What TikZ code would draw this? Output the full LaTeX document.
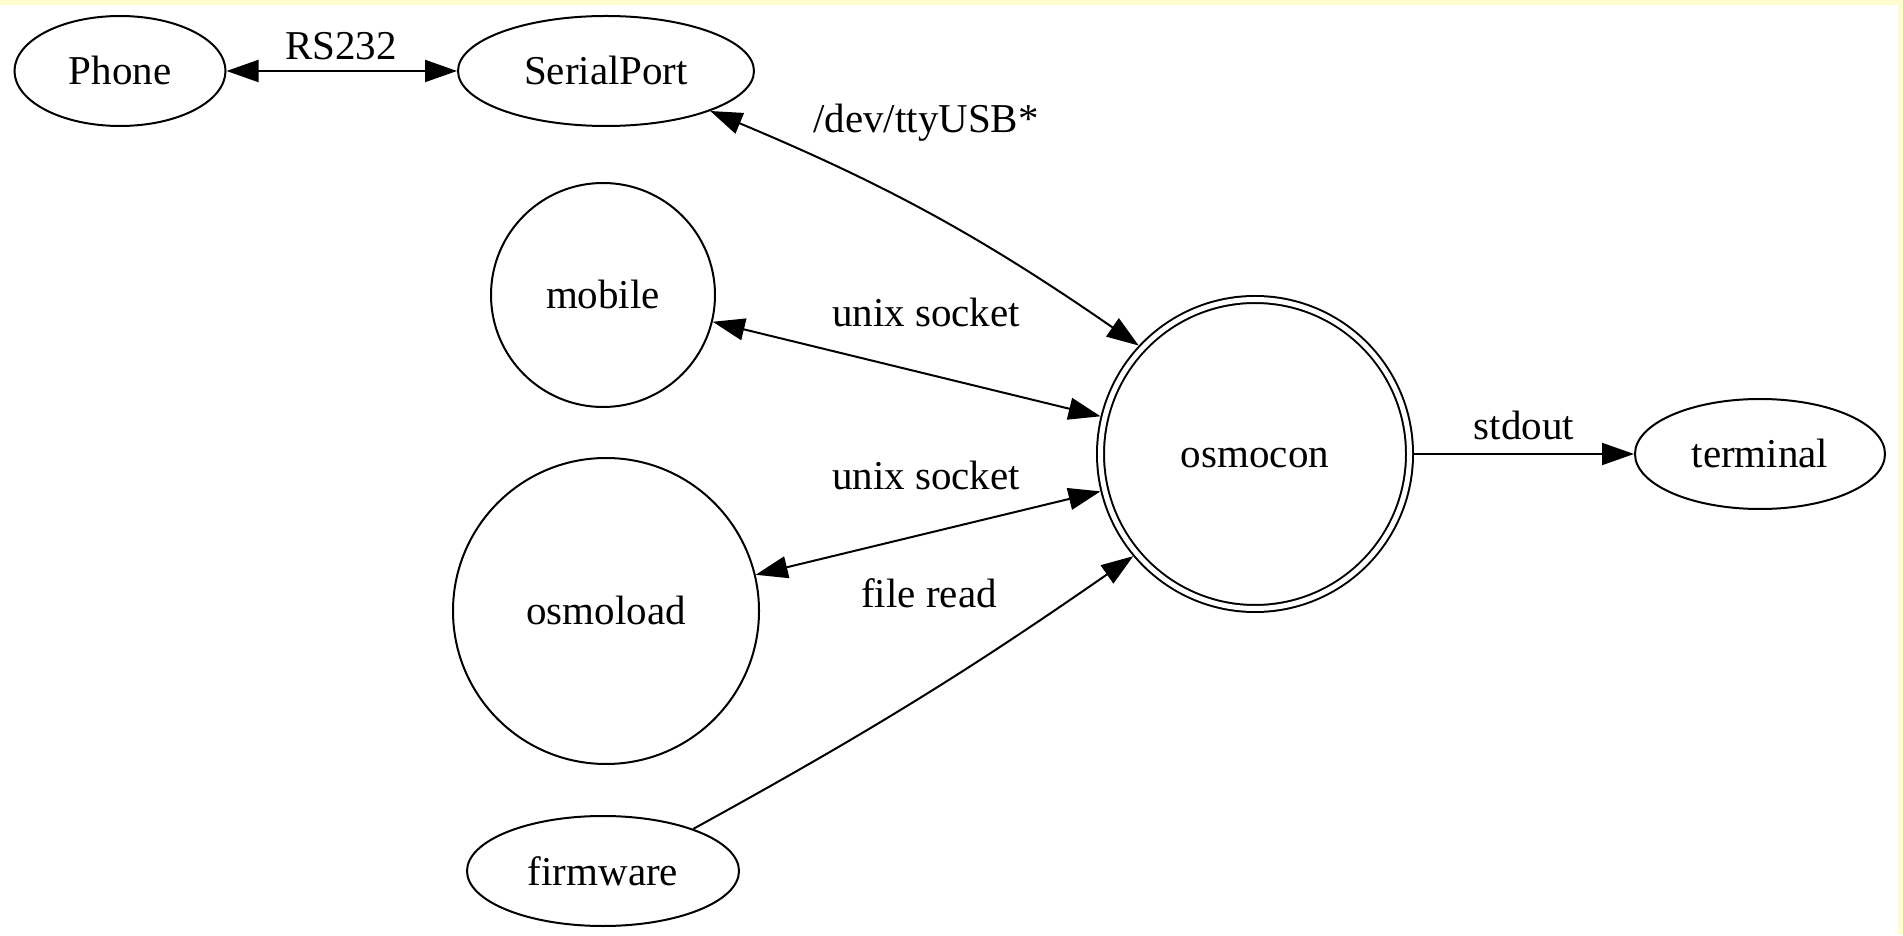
\documentclass[tikz,border=0pt]{standalone}
\usepackage{fontspec}
\setmainfont{Liberation Serif}
\usetikzlibrary{shapes.geometric,arrows.meta}
\definecolor{bgyellow}{HTML}{FFFDD0}
\begin{document}
\begin{tikzpicture}[x=1pt,y=1pt,
  >={Triangle[length=32pt,width=22pt]},
  every node/.style={font=\fontsize{41}{49}\selectfont},
  ell/.style={draw, ellipse, line width=2pt, inner sep=0pt, text height=28pt, text depth=0pt},
  circ/.style={draw, circle, line width=2pt, inner sep=0pt, text height=28pt, text depth=0pt},
  lbl/.style={anchor=base, inner sep=0pt},
  edge/.style={line width=2pt},
]
\fill[bgyellow] (0,0) rectangle (1903,935);
\fill[white] (0,0) rectangle (1898,930);
\useasboundingbox (0,0) rectangle (1903,935);

\node[ell, minimum width=211pt, minimum height=110pt] (Phone) at (120,864) {Phone};
\node[ell, minimum width=296pt, minimum height=110pt] (SerialPort) at (606,864) {SerialPort};
\node[circ, minimum size=224pt] (mobile) at (603,640) {mobile};
\node[circ, minimum size=306pt] (osmoload) at (606,324) {osmoload};
\node[ell, minimum width=272pt, minimum height=110pt] (firmware) at (603,64) {firmware};
\node[circ, double, double distance=5pt, minimum size=309pt, outer sep=4.5pt] (osmocon) at (1255,481) {osmocon};
\node[ell, minimum width=250pt, minimum height=110pt] (terminal) at (1760,481) {terminal};

\draw[edge,<->] (Phone) -- (SerialPort);
\node[lbl] (lRS) at (341,875) {RS232};
\draw[edge,<->] (SerialPort.-21) to[bend left=6] (osmocon.137);
\node[lbl] (lTTY) at (926,802) {/dev/ttyUSB*};
\draw[edge,<->] (mobile) -- (osmocon);
\node[lbl] (lUS1) at (926,608) {unix socket};
\draw[edge,<->] (osmocon) -- (osmoload);
\node[lbl] (lUS2) at (926,445) {unix socket};
\draw[edge,->] (firmware.25) to[bend right=3] (osmocon.220);
\node[lbl] (lFR) at (929,327) {file read};
\draw[edge,->] (osmocon) -- (terminal);
\node[lbl] (lSO) at (1524,495) {stdout};
\end{tikzpicture}
\end{document}
